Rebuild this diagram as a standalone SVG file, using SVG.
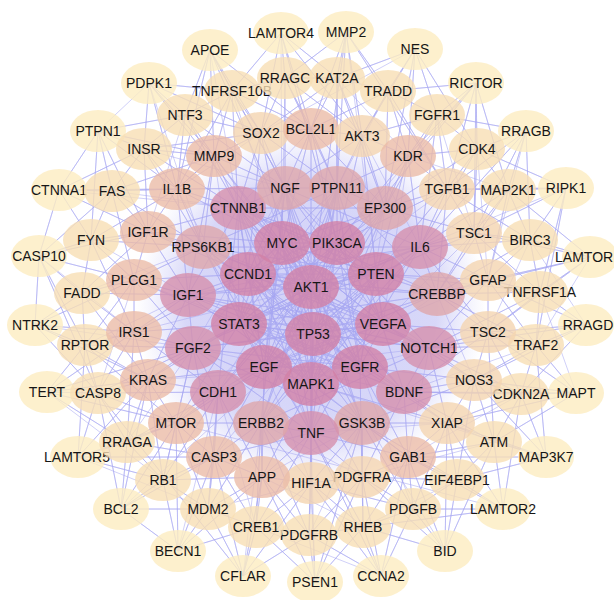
<svg xmlns="http://www.w3.org/2000/svg" width="614" height="600" viewBox="0 0 614 600">
<style>
.e{fill:none;stroke:#a8a8f2;stroke-width:0.9;stroke-opacity:0.6;stroke-linejoin:round}
ellipse{fill-opacity:0.8}
.o ellipse{fill:#fdecc0}
.s ellipse{fill:#f8deb4}
.t1 ellipse{fill:#ebbca8}
.t2 ellipse{fill:#f4d4b0}
.p1 ellipse{fill:#d690ac}
.p2 ellipse{fill:#dea6aa}
.i ellipse{fill:#d281a6}
text{font-family:"Liberation Sans",Arial,sans-serif;font-size:14px;fill:#161616;text-anchor:middle}
</style>
<defs>
<radialGradient id="dense" cx="0.5" cy="0.5" r="0.5">
<stop offset="0" stop-color="#c6c6f6" stop-opacity="1"/>
<stop offset="0.72" stop-color="#c8c8f6" stop-opacity="0.9"/>
<stop offset="1" stop-color="#d4d4f8" stop-opacity="0"/>
</radialGradient>
</defs>
<rect width="614" height="600" fill="#ffffff"/>
<g id="connectors">
<ellipse cx="311" cy="307" rx="175" ry="178" fill="url(#dense)" fill-opacity="1"/>
<path class="e" d="M210 50L185 115 210 50 232 91 210 50 261 133 210 50 214 156 210 50 311 129 210 50 311 287 210 50 285 188 210 50 177 189 210 50 238 208"/>
<path class="e" d="M281 33L285 78 281 33 337 78 281 33 232 91 281 33 311 129 281 33 261 133 281 33 362 136 281 33 337 243 281 33 282 243"/>
<path class="e" d="M346 32L337 78 346 32 285 78 346 32 388 91 346 32 311 129 346 32 362 136 346 32 337 188 346 32 447 189 346 32 311 287 346 32 383 324"/>
<path class="e" d="M415 49L388 91 415 49 437 115 415 49 337 78 415 49 362 136 415 49 408 156 415 49 385 208 415 49 477 149 415 49 261 133"/>
<path class="e" d="M476 83L437 115 476 83 477 149 476 83 388 91 476 83 408 156 476 83 447 189 476 83 508 190 476 83 474 233 476 83 311 287 476 83 337 243"/>
<path class="e" d="M526 131L477 149 526 131 508 190 526 131 437 115 526 131 447 189 526 131 474 233 526 131 530 240 526 131 420 247 526 131 488 280"/>
<path class="e" d="M566 188L508 190 566 188 530 240 566 188 477 149 566 188 474 233 566 188 540 292 566 188 447 189 566 188 536 345 566 188 420 247"/>
<path class="e" d="M590 257L530 240 590 257 540 292 590 257 488 280 590 257 474 233 590 257 508 190 590 257 488 332 590 257 437 294 590 257 536 345"/>
<path class="e" d="M586 325L540 292 586 325 536 345 586 325 488 332 586 325 488 280 586 325 521 394 586 325 474 380 586 325 429 348 586 325 530 240"/>
<path class="e" d="M576 393L536 345 576 393 521 394 576 393 494 442 576 393 474 380 576 393 488 332 576 393 447 423 576 393 404 392 576 393 540 292"/>
<path class="e" d="M546 457L494 442 546 457 521 394 546 457 457 480 546 457 447 423 546 457 536 345 546 457 474 380 546 457 408 457 546 457 311 384"/>
<path class="e" d="M503 509L457 480 503 509 494 442 503 509 413 509 503 509 447 423 503 509 408 457 503 509 521 394 503 509 363 527 503 509 176 423"/>
<path class="e" d="M445 551L413 509 445 551 457 480 445 551 363 527 445 551 408 457 445 551 362 477 445 551 494 442 445 551 447 423 445 551 313 334"/>
<path class="e" d="M381 576L363 527 381 576 413 509 381 576 309 535 381 576 362 477 381 576 311 483 381 576 408 457 381 576 311 433 381 576 256 527"/>
<path class="e" d="M315 582L309 535 315 582 363 527 315 582 256 527 315 582 311 483 315 582 262 477 315 582 362 477 315 582 362 423 315 582 311 433"/>
<path class="e" d="M243 576L256 527 243 576 309 535 243 576 208 509 243 576 262 477 243 576 214 457 243 576 311 483 243 576 98 393 243 576 261 423"/>
<path class="e" d="M178 551L208 509 178 551 256 527 178 551 163 480 178 551 214 457 178 551 262 477 178 551 176 423 178 551 121 509 178 551 218 392"/>
<path class="e" d="M121 509L163 480 121 509 208 509 121 509 127 442 121 509 176 423 121 509 214 457 121 509 98 393 121 509 148 380 121 509 313 334"/>
<path class="e" d="M78 457L127 442 78 457 163 480 78 457 98 393 78 457 176 423 78 457 148 380 78 457 85 345 78 457 214 457 78 457 208 509"/>
<path class="e" d="M47 392L98 393 47 392 85 345 47 392 127 442 47 392 148 380 47 392 134 332 47 392 176 423 47 392 193 348 47 392 163 480"/>
<path class="e" d="M35 325L85 345 35 325 82 293 35 325 98 393 35 325 134 332 35 325 134 280 35 325 148 380 35 325 39 256 35 325 193 348"/>
<path class="e" d="M39 256L82 293 39 256 91 240 39 256 85 345 39 256 134 280 39 256 148 232 39 256 112 191 39 256 98 393 39 256 134 332"/>
<path class="e" d="M59 190L112 191 59 190 91 240 59 190 144 149 59 190 148 232 59 190 177 189 59 190 98 131 59 190 39 256 59 190 238 208"/>
<path class="e" d="M98 131L144 149 98 131 112 191 98 131 185 115 98 131 177 189 98 131 148 232 98 131 91 240 98 131 214 156 98 131 149 83"/>
<path class="e" d="M149 83L185 115 149 83 144 149 149 83 232 91 149 83 214 156 149 83 177 189 149 83 261 133 149 83 311 287 149 83 203 247"/>
<path class="e" d="M185 115L144 149 185 115 214 156 185 115 177 189 185 115 285 188 185 115 232 91 185 115 261 133 185 115 238 208 185 115 148 232"/>
<path class="e" d="M232 91L285 78 232 91 261 133 232 91 214 156 232 91 311 129 232 91 285 188 232 91 238 208 232 91 177 189 232 91 313 334"/>
<path class="e" d="M285 78L337 78 285 78 311 129 285 78 261 133 285 78 362 136 285 78 285 188 285 78 337 188 285 78 282 243"/>
<path class="e" d="M337 78L388 91 337 78 311 129 337 78 362 136 337 78 261 133 337 78 337 188 337 78 385 208 337 78 337 243 337 78 408 156"/>
<path class="e" d="M388 91L437 115 388 91 362 136 388 91 408 156 388 91 311 129 388 91 385 208 388 91 447 189 388 91 337 188"/>
<path class="e" d="M437 115L477 149 437 115 408 156 437 115 447 189 437 115 362 136 437 115 385 208 437 115 420 247 437 115 474 233"/>
<path class="e" d="M477 149L508 190 477 149 447 189 477 149 408 156 477 149 474 233 477 149 420 247 477 149 385 208 477 149 488 280"/>
<path class="e" d="M508 190L530 240 508 190 474 233 508 190 447 189 508 190 420 247 508 190 488 280 508 190 437 294 508 190 408 156"/>
<path class="e" d="M530 240L540 292 530 240 474 233 530 240 488 280 530 240 420 247 530 240 437 294 530 240 447 189 530 240 488 332"/>
<path class="e" d="M540 292L536 345 540 292 488 280 540 292 488 332 540 292 437 294 540 292 474 233 540 292 429 348 540 292 376 274"/>
<path class="e" d="M536 345L521 394 536 345 488 332 536 345 474 380 536 345 488 280 536 345 429 348 536 345 437 294 536 345 404 392"/>
<path class="e" d="M521 394L494 442 521 394 474 380 521 394 488 332 521 394 447 423 521 394 404 392 521 394 429 348 521 394 408 457"/>
<path class="e" d="M494 442L457 480 494 442 447 423 494 442 474 380 494 442 408 457 494 442 404 392 494 442 488 332 494 442 362 477"/>
<path class="e" d="M457 480L413 509 457 480 408 457 457 480 447 423 457 480 362 477 457 480 362 423 457 480 474 380 457 480 363 527"/>
<path class="e" d="M413 509L363 527 413 509 408 457 413 509 362 477 413 509 447 423 413 509 311 483 413 509 362 423 413 509 360 367"/>
<path class="e" d="M363 527L309 535 363 527 362 477 363 527 311 483 363 527 408 457 363 527 311 433 363 527 362 423 363 527 262 477"/>
<path class="e" d="M309 535L256 527 309 535 311 483 309 535 262 477 309 535 362 477 309 535 311 433 309 535 261 423 309 535 362 423"/>
<path class="e" d="M256 527L208 509 256 527 262 477 256 527 214 457 256 527 311 483 256 527 261 423 256 527 311 433 256 527 218 392"/>
<path class="e" d="M208 509L163 480 208 509 214 457 208 509 262 477 208 509 176 423 208 509 261 423 208 509 218 392 208 509 311 483"/>
<path class="e" d="M163 480L127 442 163 480 176 423 163 480 214 457 163 480 148 380 163 480 218 392 163 480 262 477 163 480 193 348"/>
<path class="e" d="M127 442L98 393 127 442 176 423 127 442 148 380 127 442 214 457 127 442 134 332 127 442 218 392 127 442 193 348"/>
<path class="e" d="M98 393L85 345 98 393 148 380 98 393 176 423 98 393 134 332 98 393 193 348 98 393 218 392 98 393 134 280"/>
<path class="e" d="M85 345L82 293 85 345 134 332 85 345 148 380 85 345 134 280 85 345 193 348 85 345 176 423 85 345 188 295"/>
<path class="e" d="M82 293L91 240 82 293 134 280 82 293 134 332 82 293 148 232 82 293 188 295 82 293 148 380 82 293 203 247"/>
<path class="e" d="M91 240L112 191 91 240 148 232 91 240 134 280 91 240 177 189 91 240 134 332 91 240 203 247 91 240 188 295"/>
<path class="e" d="M112 191L144 149 112 191 177 189 112 191 148 232 112 191 214 156 112 191 134 280 112 191 203 247 112 191 238 208"/>
<path class="e" d="M144 149L214 156 144 149 177 189 144 149 148 232 144 149 261 133 144 149 238 208 144 149 203 247 144 149 285 188"/>
<path class="e" d="M214 156L261 133 214 156 177 189 214 156 238 208 214 156 285 188 214 156 203 247 214 156 282 243 214 156 311 287 214 156 188 295 214 156 239 324"/>
<path class="e" d="M261 133L311 129 261 133 285 188 261 133 238 208 261 133 337 188 261 133 282 243 261 133 248 274 261 133 177 189"/>
<path class="e" d="M311 129L362 136 311 129 285 188 311 129 337 188 311 129 282 243 311 129 337 243 311 129 311 287 311 129 385 208 311 129 238 208"/>
<path class="e" d="M362 136L408 156 362 136 337 188 362 136 385 208 362 136 337 243 362 136 285 188 362 136 376 274 362 136 420 247"/>
<path class="e" d="M408 156L447 189 408 156 385 208 408 156 420 247 408 156 337 243 408 156 337 188 408 156 376 274 408 156 383 324"/>
<path class="e" d="M447 189L474 233 447 189 420 247 447 189 385 208 447 189 437 294 447 189 376 274 447 189 337 243 447 189 311 287"/>
<path class="e" d="M474 233L488 280 474 233 420 247 474 233 437 294 474 233 376 274 474 233 385 208 474 233 383 324"/>
<path class="e" d="M488 280L488 332 488 280 437 294 488 280 420 247 488 280 429 348 488 280 376 274 488 280 383 324"/>
<path class="e" d="M488 332L474 380 488 332 429 348 488 332 437 294 488 332 383 324 488 332 404 392 488 332 420 247 488 332 360 367"/>
<path class="e" d="M474 380L447 423 474 380 404 392 474 380 429 348 474 380 360 367 474 380 383 324 474 380 362 423 474 380 437 294"/>
<path class="e" d="M447 423L408 457 447 423 404 392 447 423 362 423 447 423 429 348 447 423 360 367 447 423 311 384 447 423 311 433"/>
<path class="e" d="M408 457L362 477 408 457 362 423 408 457 404 392 408 457 311 433 408 457 360 367 408 457 311 384 408 457 429 348"/>
<path class="e" d="M362 477L311 483 362 477 362 423 362 477 311 433 362 477 404 392 362 477 360 367 362 477 311 384 362 477 261 423"/>
<path class="e" d="M311 483L262 477 311 483 311 433 311 483 261 423 311 483 362 423 311 483 311 384 311 483 313 334 311 483 264 367"/>
<path class="e" d="M262 477L214 457 262 477 261 423 262 477 311 433 262 477 218 392 262 477 311 384 262 477 264 367 262 477 362 423"/>
<path class="e" d="M214 457L176 423 214 457 218 392 214 457 261 423 214 457 264 367 214 457 193 348 214 457 311 433 214 457 313 334"/>
<path class="e" d="M176 423L148 380 176 423 218 392 176 423 193 348 176 423 261 423 176 423 264 367 176 423 239 324 176 423 311 287"/>
<path class="e" d="M148 380L134 332 148 380 193 348 148 380 218 392 148 380 239 324 148 380 264 367 148 380 188 295 148 380 360 367"/>
<path class="e" d="M134 332L134 280 134 332 193 348 134 332 188 295 134 332 239 324 134 332 248 274 134 332 218 392 134 332 311 287"/>
<path class="e" d="M134 280L148 232 134 280 188 295 134 280 203 247 134 280 193 348 134 280 248 274 134 280 239 324 134 280 360 367"/>
<path class="e" d="M148 232L177 189 148 232 203 247 148 232 188 295 148 232 238 208 148 232 248 274 148 232 282 243 148 232 311 287"/>
<path class="e" d="M177 189L214 156 177 189 238 208 177 189 203 247 177 189 285 188 177 189 188 295 177 189 282 243 177 189 311 433"/>
<path class="e" d="M311 287L313 334 311 287 282 243 311 287 337 243 311 287 376 274 311 287 383 324 311 287 360 367 311 287 311 384 311 287 264 367 311 287 239 324 311 287 248 274 311 287 238 208 311 287 285 188 311 287 337 188 311 287 385 208 311 287 420 247 311 287 437 294 311 287 429 348 311 287 404 392 311 287 362 423 311 287 311 433 311 287 261 423 311 287 218 392 311 287 193 348 311 287 188 295 311 287 203 247"/>
<path class="e" d="M313 334L282 243 313 334 337 243 313 334 376 274 313 334 383 324 313 334 360 367 313 334 311 384 313 334 264 367 313 334 239 324 313 334 248 274 313 334 238 208 313 334 285 188 313 334 337 188 313 334 385 208 313 334 420 247 313 334 437 294 313 334 429 348 313 334 404 392 313 334 362 423 313 334 311 433 313 334 261 423 313 334 218 392 313 334 193 348 313 334 188 295 313 334 203 247"/>
<path class="e" d="M282 243L337 243 282 243 376 274 282 243 383 324 282 243 360 367 282 243 311 384 282 243 264 367 282 243 239 324 282 243 248 274 282 243 385 208 282 243 437 294 282 243 404 392 282 243 311 433 282 243 193 348"/>
<path class="e" d="M337 243L376 274 337 243 383 324 337 243 360 367 337 243 311 384 337 243 264 367 337 243 239 324 337 243 248 274 337 243 238 208 337 243 188 295 337 243 218 392 337 243 311 433 337 243 429 348"/>
<path class="e" d="M376 274L383 324 376 274 360 367 376 274 311 384 376 274 264 367 376 274 239 324 376 274 248 274 376 274 238 208 376 274 203 247 376 274 188 295 376 274 261 423 376 274 285 188"/>
<path class="e" d="M383 324L360 367 383 324 311 384 383 324 264 367 383 324 239 324 383 324 248 274 383 324 188 295 383 324 203 247 383 324 238 208 383 324 285 188 383 324 193 348 383 324 218 392"/>
<path class="e" d="M360 367L311 384 360 367 264 367 360 367 239 324 360 367 248 274 360 367 193 348 360 367 188 295 360 367 203 247 360 367 238 208 360 367 285 188 360 367 337 188 360 367 385 208"/>
<path class="e" d="M311 384L264 367 311 384 239 324 311 384 248 274 311 384 188 295 311 384 203 247 311 384 238 208 311 384 285 188 311 384 337 188 311 384 385 208 311 384 420 247 311 384 437 294"/>
<path class="e" d="M264 367L239 324 264 367 248 274 264 367 203 247 264 367 238 208 264 367 285 188 264 367 337 188 264 367 385 208 264 367 420 247 264 367 437 294 264 367 429 348"/>
<path class="e" d="M239 324L248 274 239 324 238 208 239 324 285 188 239 324 337 188 239 324 385 208 239 324 420 247 239 324 437 294 239 324 429 348 239 324 404 392 239 324 362 423"/>
<path class="e" d="M248 274L238 208 248 274 285 188 248 274 337 188 248 274 385 208 248 274 420 247 248 274 437 294 248 274 429 348 248 274 404 392 248 274 362 423 248 274 311 433"/>
<path class="e" d="M238 208L285 188 238 208 385 208 238 208 437 294 238 208 404 392 238 208 311 433 238 208 218 392 238 208 188 295 238 208 429 348"/>
<path class="e" d="M285 188L337 188 285 188 420 247 285 188 429 348 285 188 362 423 285 188 261 423 285 188 193 348"/>
<path class="e" d="M337 188L385 208 337 188 437 294 337 188 404 392 337 188 261 423 337 188 203 247 337 188 218 392"/>
<path class="e" d="M420 247L437 294 420 247 311 433 420 247 261 423 420 247 193 348 420 247 203 247 420 247 188 295"/>
<path class="e" d="M429 348L404 392 429 348 261 423 429 348 188 295 429 348 203 247"/>
<path class="e" d="M311 433L362 423 311 433 261 423 311 433 193 348 311 433 203 247 311 433 385 208"/>
<path class="e" d="M193 348L188 295 193 348 218 392 193 348 362 423 193 348 404 392"/>
</g>
<g id="APOE" class="o"><ellipse cx="210" cy="50" rx="28" ry="21"/><text x="210" y="55">APOE</text></g>
<g id="LAMTOR4" class="o"><ellipse cx="281" cy="33" rx="28" ry="21"/><text x="281" y="38">LAMTOR4</text></g>
<g id="MMP2" class="o"><ellipse cx="346" cy="32" rx="28" ry="21"/><text x="346" y="37">MMP2</text></g>
<g id="NES" class="o"><ellipse cx="415" cy="49" rx="28" ry="21"/><text x="415" y="54">NES</text></g>
<g id="RICTOR" class="o"><ellipse cx="476" cy="83" rx="28" ry="21"/><text x="476" y="88">RICTOR</text></g>
<g id="RRAGB" class="o"><ellipse cx="526" cy="131" rx="28" ry="21"/><text x="526" y="136">RRAGB</text></g>
<g id="RIPK1" class="o"><ellipse cx="566" cy="188" rx="28" ry="21"/><text x="566" y="193">RIPK1</text></g>
<g id="LAMTOR1" class="o"><ellipse cx="590" cy="257" rx="28" ry="21"/><text x="588" y="262">LAMTOR1</text></g>
<g id="RRAGD" class="o"><ellipse cx="586" cy="325" rx="28" ry="21"/><text x="588" y="330">RRAGD</text></g>
<g id="MAPT" class="o"><ellipse cx="576" cy="393" rx="28" ry="21"/><text x="576" y="398">MAPT</text></g>
<g id="MAP3K7" class="o"><ellipse cx="546" cy="457" rx="28" ry="21"/><text x="546" y="462">MAP3K7</text></g>
<g id="LAMTOR2" class="o"><ellipse cx="503" cy="509" rx="28" ry="21"/><text x="503" y="514">LAMTOR2</text></g>
<g id="BID" class="o"><ellipse cx="445" cy="551" rx="28" ry="21"/><text x="445" y="556">BID</text></g>
<g id="CCNA2" class="o"><ellipse cx="381" cy="576" rx="28" ry="21"/><text x="381" y="581">CCNA2</text></g>
<g id="PSEN1" class="o"><ellipse cx="315" cy="582" rx="28" ry="21"/><text x="315" y="587">PSEN1</text></g>
<g id="CFLAR" class="o"><ellipse cx="243" cy="576" rx="28" ry="21"/><text x="243" y="581">CFLAR</text></g>
<g id="BECN1" class="o"><ellipse cx="178" cy="551" rx="28" ry="21"/><text x="178" y="556">BECN1</text></g>
<g id="BCL2" class="o"><ellipse cx="121" cy="509" rx="28" ry="21"/><text x="121" y="514">BCL2</text></g>
<g id="LAMTOR5" class="o"><ellipse cx="78" cy="457" rx="28" ry="21"/><text x="77" y="462">LAMTOR5</text></g>
<g id="TERT" class="o"><ellipse cx="47" cy="392" rx="28" ry="21"/><text x="47" y="397">TERT</text></g>
<g id="NTRK2" class="o"><ellipse cx="35" cy="325" rx="28" ry="21"/><text x="35" y="330">NTRK2</text></g>
<g id="CASP10" class="o"><ellipse cx="39" cy="256" rx="28" ry="21"/><text x="39" y="261">CASP10</text></g>
<g id="CTNNA1" class="o"><ellipse cx="59" cy="190" rx="28" ry="21"/><text x="59" y="195">CTNNA1</text></g>
<g id="PTPN1" class="o"><ellipse cx="98" cy="131" rx="28" ry="21"/><text x="98" y="136">PTPN1</text></g>
<g id="PDPK1" class="o"><ellipse cx="149" cy="83" rx="28" ry="21"/><text x="149" y="88">PDPK1</text></g>
<g id="NTF3" class="s"><ellipse cx="185" cy="115" rx="28" ry="21"/><text x="185" y="120">NTF3</text></g>
<g id="TNFRSF10B" class="s"><ellipse cx="232" cy="91" rx="28" ry="21"/><text x="232" y="96">TNFRSF10B</text></g>
<g id="RRAGC" class="s"><ellipse cx="285" cy="78" rx="28" ry="21"/><text x="285" y="83">RRAGC</text></g>
<g id="KAT2A" class="s"><ellipse cx="337" cy="78" rx="28" ry="21"/><text x="337" y="83">KAT2A</text></g>
<g id="TRADD" class="s"><ellipse cx="388" cy="91" rx="28" ry="21"/><text x="388" y="96">TRADD</text></g>
<g id="FGFR1" class="s"><ellipse cx="437" cy="115" rx="28" ry="21"/><text x="437" y="120">FGFR1</text></g>
<g id="CDK4" class="s"><ellipse cx="477" cy="149" rx="28" ry="21"/><text x="477" y="154">CDK4</text></g>
<g id="MAP2K1" class="s"><ellipse cx="508" cy="190" rx="28" ry="21"/><text x="508" y="195">MAP2K1</text></g>
<g id="BIRC3" class="s"><ellipse cx="530" cy="240" rx="28" ry="21"/><text x="530" y="245">BIRC3</text></g>
<g id="TNFRSF1A" class="s"><ellipse cx="540" cy="292" rx="28" ry="21"/><text x="540" y="297">TNFRSF1A</text></g>
<g id="TRAF2" class="s"><ellipse cx="536" cy="345" rx="28" ry="21"/><text x="536" y="350">TRAF2</text></g>
<g id="CDKN2A" class="s"><ellipse cx="521" cy="394" rx="28" ry="21"/><text x="521" y="399">CDKN2A</text></g>
<g id="ATM" class="s"><ellipse cx="494" cy="442" rx="28" ry="21"/><text x="494" y="447">ATM</text></g>
<g id="EIF4EBP1" class="s"><ellipse cx="457" cy="480" rx="28" ry="21"/><text x="457" y="485">EIF4EBP1</text></g>
<g id="PDGFB" class="s"><ellipse cx="413" cy="509" rx="28" ry="21"/><text x="413" y="514">PDGFB</text></g>
<g id="RHEB" class="s"><ellipse cx="363" cy="527" rx="28" ry="21"/><text x="363" y="532">RHEB</text></g>
<g id="PDGFRB" class="s"><ellipse cx="309" cy="535" rx="28" ry="21"/><text x="309" y="540">PDGFRB</text></g>
<g id="CREB1" class="s"><ellipse cx="256" cy="527" rx="28" ry="21"/><text x="256" y="532">CREB1</text></g>
<g id="MDM2" class="s"><ellipse cx="208" cy="509" rx="28" ry="21"/><text x="208" y="514">MDM2</text></g>
<g id="RB1" class="s"><ellipse cx="163" cy="480" rx="28" ry="21"/><text x="163" y="485">RB1</text></g>
<g id="RRAGA" class="s"><ellipse cx="127" cy="442" rx="28" ry="21"/><text x="127" y="447">RRAGA</text></g>
<g id="CASP8" class="s"><ellipse cx="98" cy="393" rx="28" ry="21"/><text x="98" y="398">CASP8</text></g>
<g id="RPTOR" class="s"><ellipse cx="85" cy="345" rx="28" ry="21"/><text x="85" y="350">RPTOR</text></g>
<g id="FADD" class="s"><ellipse cx="82" cy="293" rx="28" ry="21"/><text x="82" y="298">FADD</text></g>
<g id="FYN" class="s"><ellipse cx="91" cy="240" rx="28" ry="21"/><text x="91" y="245">FYN</text></g>
<g id="FAS" class="s"><ellipse cx="112" cy="191" rx="28" ry="21"/><text x="112" y="196">FAS</text></g>
<g id="INSR" class="s"><ellipse cx="144" cy="149" rx="28" ry="21"/><text x="144" y="154">INSR</text></g>
<g id="MMP9" class="t1"><ellipse cx="214" cy="156" rx="28" ry="21"/><text x="214" y="161">MMP9</text></g>
<g id="SOX2" class="t2"><ellipse cx="261" cy="133" rx="28" ry="21"/><text x="261" y="138">SOX2</text></g>
<g id="BCL2L1" class="t1"><ellipse cx="311" cy="129" rx="28" ry="21"/><text x="311" y="134">BCL2L1</text></g>
<g id="AKT3" class="t2"><ellipse cx="362" cy="136" rx="28" ry="21"/><text x="362" y="141">AKT3</text></g>
<g id="KDR" class="t1"><ellipse cx="408" cy="156" rx="28" ry="21"/><text x="408" y="161">KDR</text></g>
<g id="TGFB1" class="t2"><ellipse cx="447" cy="189" rx="28" ry="21"/><text x="447" y="194">TGFB1</text></g>
<g id="TSC1" class="t2"><ellipse cx="474" cy="233" rx="28" ry="21"/><text x="474" y="238">TSC1</text></g>
<g id="GFAP" class="t2"><ellipse cx="488" cy="280" rx="28" ry="21"/><text x="488" y="285">GFAP</text></g>
<g id="TSC2" class="t2"><ellipse cx="488" cy="332" rx="28" ry="21"/><text x="488" y="337">TSC2</text></g>
<g id="NOS3" class="t2"><ellipse cx="474" cy="380" rx="28" ry="21"/><text x="474" y="385">NOS3</text></g>
<g id="XIAP" class="t2"><ellipse cx="447" cy="423" rx="28" ry="21"/><text x="447" y="428">XIAP</text></g>
<g id="GAB1" class="t1"><ellipse cx="408" cy="457" rx="28" ry="21"/><text x="408" y="462">GAB1</text></g>
<g id="PDGFRA" class="t2"><ellipse cx="362" cy="477" rx="28" ry="21"/><text x="362" y="482">PDGFRA</text></g>
<g id="HIF1A" class="t2"><ellipse cx="311" cy="483" rx="28" ry="21"/><text x="311" y="488">HIF1A</text></g>
<g id="APP" class="t1"><ellipse cx="262" cy="477" rx="28" ry="21"/><text x="262" y="482">APP</text></g>
<g id="CASP3" class="t1"><ellipse cx="214" cy="457" rx="28" ry="21"/><text x="214" y="462">CASP3</text></g>
<g id="MTOR" class="t1"><ellipse cx="176" cy="423" rx="28" ry="21"/><text x="176" y="428">MTOR</text></g>
<g id="KRAS" class="t1"><ellipse cx="148" cy="380" rx="28" ry="21"/><text x="148" y="385">KRAS</text></g>
<g id="IRS1" class="t1"><ellipse cx="134" cy="332" rx="28" ry="21"/><text x="134" y="337">IRS1</text></g>
<g id="PLCG1" class="t1"><ellipse cx="134" cy="280" rx="28" ry="21"/><text x="134" y="285">PLCG1</text></g>
<g id="IGF1R" class="t1"><ellipse cx="148" cy="232" rx="28" ry="21"/><text x="148" y="237">IGF1R</text></g>
<g id="IL1B" class="t1"><ellipse cx="177" cy="189" rx="28" ry="21"/><text x="177" y="194">IL1B</text></g>
<g id="CTNNB1" class="p1"><ellipse cx="238" cy="208" rx="28" ry="22"/><text x="238" y="213">CTNNB1</text></g>
<g id="NGF" class="p2"><ellipse cx="285" cy="188" rx="28" ry="22"/><text x="285" y="193">NGF</text></g>
<g id="PTPN11" class="p2"><ellipse cx="337" cy="188" rx="28" ry="22"/><text x="337" y="193">PTPN11</text></g>
<g id="EP300" class="p2"><ellipse cx="385" cy="208" rx="28" ry="22"/><text x="385" y="213">EP300</text></g>
<g id="IL6" class="p1"><ellipse cx="420" cy="247" rx="28" ry="22"/><text x="420" y="252">IL6</text></g>
<g id="CREBBP" class="p2"><ellipse cx="437" cy="294" rx="28" ry="22"/><text x="437" y="299">CREBBP</text></g>
<g id="NOTCH1" class="p1"><ellipse cx="429" cy="348" rx="28" ry="22"/><text x="429" y="353">NOTCH1</text></g>
<g id="BDNF" class="p1"><ellipse cx="404" cy="392" rx="28" ry="22"/><text x="404" y="397">BDNF</text></g>
<g id="GSK3B" class="p2"><ellipse cx="362" cy="423" rx="28" ry="22"/><text x="362" y="428">GSK3B</text></g>
<g id="TNF" class="p1"><ellipse cx="311" cy="433" rx="28" ry="22"/><text x="311" y="438">TNF</text></g>
<g id="ERBB2" class="p2"><ellipse cx="261" cy="423" rx="28" ry="22"/><text x="261" y="428">ERBB2</text></g>
<g id="CDH1" class="p1"><ellipse cx="218" cy="392" rx="28" ry="22"/><text x="218" y="397">CDH1</text></g>
<g id="FGF2" class="p1"><ellipse cx="193" cy="348" rx="28" ry="22"/><text x="193" y="353">FGF2</text></g>
<g id="IGF1" class="p1"><ellipse cx="188" cy="295" rx="28" ry="22"/><text x="188" y="300">IGF1</text></g>
<g id="RPS6KB1" class="p2"><ellipse cx="203" cy="247" rx="28" ry="22"/><text x="203" y="252">RPS6KB1</text></g>
<g id="MYC" class="i"><ellipse cx="282" cy="243" rx="28" ry="22"/><text x="282" y="248">MYC</text></g>
<g id="PIK3CA" class="i"><ellipse cx="337" cy="243" rx="28" ry="22"/><text x="337" y="248">PIK3CA</text></g>
<g id="PTEN" class="i"><ellipse cx="376" cy="274" rx="28" ry="22"/><text x="376" y="279">PTEN</text></g>
<g id="CCND1" class="i"><ellipse cx="248" cy="274" rx="28" ry="22"/><text x="248" y="279">CCND1</text></g>
<g id="STAT3" class="i"><ellipse cx="239" cy="324" rx="28" ry="22"/><text x="239" y="329">STAT3</text></g>
<g id="VEGFA" class="i"><ellipse cx="383" cy="324" rx="28" ry="22"/><text x="383" y="329">VEGFA</text></g>
<g id="EGF" class="i"><ellipse cx="264" cy="367" rx="28" ry="22"/><text x="264" y="372">EGF</text></g>
<g id="EGFR" class="i"><ellipse cx="360" cy="367" rx="28" ry="22"/><text x="360" y="372">EGFR</text></g>
<g id="AKT1" class="i"><ellipse cx="311" cy="287" rx="28" ry="22"/><text x="311" y="292">AKT1</text></g>
<g id="TP53" class="i"><ellipse cx="313" cy="334" rx="28" ry="22"/><text x="313" y="339">TP53</text></g>
<g id="MAPK1" class="i"><ellipse cx="311" cy="384" rx="28" ry="22"/><text x="311" y="389">MAPK1</text></g>
</svg>
